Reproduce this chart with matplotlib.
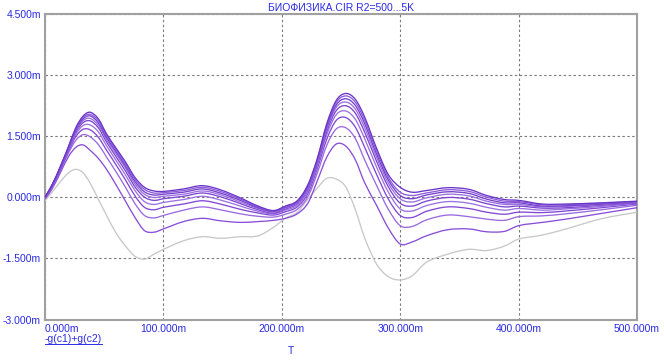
import matplotlib
matplotlib.use("Agg")
import matplotlib.pyplot as plt
from matplotlib.lines import Line2D
from matplotlib.path import Path
from matplotlib.patches import PathPatch

# time axis (ms)
t = [0, 6, 13, 20, 26, 32, 38, 45, 52, 60, 68, 76, 84, 92, 100, 117, 133, 148, 165, 180,
     193, 203, 213, 222, 230, 238, 246, 254, 262, 270, 280, 290, 300, 310, 322, 340, 358,
     373, 388, 400, 420, 440, 470, 500]

# values in m-units, one list per R2 step
c0 = [-0.09, 0.12, 0.38, 0.60, 0.68, 0.60, 0.35, -0.05, -0.45, -0.88, -1.20, -1.45, -1.52, -1.40,
      -1.28, -1.07, -0.97, -1.01, -0.97, -0.95, -0.74, -0.52, -0.37, -0.05, 0.22, 0.46, 0.44, 0.25,
      -0.30, -1.00, -1.64, -1.95, -2.03, -1.93, -1.60, -1.40, -1.28, -1.31, -1.20, -1.03, -0.93,
      -0.78, -0.53, -0.37]
c1 = [-0.05, 0.20, 0.60, 1.00, 1.22, 1.28, 1.15, 0.95, 0.68, 0.30, -0.10, -0.50, -0.82, -0.86,
      -0.78, -0.60, -0.52, -0.58, -0.62, -0.60, -0.57, -0.52, -0.41, -0.15, 0.40, 0.98, 1.30, 1.25,
      0.92, 0.35, -0.20, -0.76, -1.15, -1.10, -0.95, -0.80, -0.78, -0.85, -0.84, -0.70, -0.62,
      -0.54, -0.40, -0.26]
c2 = [-0.03, 0.24, 0.65, 1.09, 1.39, 1.53, 1.48, 1.29, 0.98, 0.62, 0.24, -0.16, -0.45, -0.51,
      -0.45, -0.32, -0.24, -0.31, -0.41, -0.47, -0.49, -0.42, -0.30, 0.01, 0.59, 1.27, 1.67, 1.70,
      1.44, 0.91, 0.29, -0.30, -0.70, -0.72, -0.56, -0.44, -0.48, -0.54, -0.57, -0.48, -0.46,
      -0.41, -0.31, -0.20]
c3 = [-0.02, 0.25, 0.68, 1.14, 1.48, 1.66, 1.65, 1.47, 1.15, 0.79, 0.42, 0.03, -0.25, -0.31,
      -0.25, -0.17, -0.09, -0.17, -0.30, -0.39, -0.44, -0.36, -0.24, 0.09, 0.70, 1.42, 1.88, 1.95,
      1.72, 1.22, 0.56, -0.05, -0.45, -0.50, -0.35, -0.24, -0.28, -0.37, -0.42, -0.37, -0.38,
      -0.34, -0.26, -0.17]
c4 = [-0.02, 0.27, 0.70, 1.17, 1.54, 1.75, 1.77, 1.60, 1.26, 0.90, 0.54, 0.16, -0.11, -0.18,
      -0.13, -0.06, 0.02, -0.07, -0.22, -0.35, -0.41, -0.32, -0.20, 0.15, 0.77, 1.53, 2.02, 2.11,
      1.91, 1.43, 0.74, 0.12, -0.29, -0.34, -0.21, -0.11, -0.15, -0.25, -0.32, -0.28, -0.32,
      -0.29, -0.23, -0.15]
c5 = [-0.01, 0.28, 0.72, 1.19, 1.59, 1.82, 1.87, 1.70, 1.35, 0.99, 0.64, 0.25, 0.00, -0.08,
      -0.04, 0.02, 0.10, 0.01, -0.16, -0.31, -0.39, -0.29, -0.16, 0.20, 0.82, 1.61, 2.12, 2.24,
      2.06, 1.59, 0.88, 0.25, -0.15, -0.22, -0.10, -0.01, -0.05, -0.16, -0.24, -0.22, -0.27,
      -0.26, -0.20, -0.14]
c6 = [-0.01, 0.28, 0.73, 1.21, 1.62, 1.87, 1.93, 1.76, 1.41, 1.06, 0.71, 0.32, 0.07, -0.01,
      0.02, 0.07, 0.15, 0.06, -0.12, -0.28, -0.37, -0.27, -0.14, 0.23, 0.86, 1.67, 2.20, 2.33,
      2.16, 1.70, 0.98, 0.34, -0.04, -0.12, -0.02, 0.07, 0.03, -0.10, -0.18, -0.18, -0.24,
      -0.23, -0.18, -0.13]
c7 = [0.00, 0.29, 0.74, 1.23, 1.65, 1.91, 1.99, 1.82, 1.46, 1.11, 0.76, 0.38, 0.13, 0.05,
      0.07, 0.12, 0.20, 0.10, -0.08, -0.26, -0.35, -0.25, -0.12, 0.26, 0.90, 1.72, 2.26, 2.41,
      2.25, 1.80, 1.06, 0.42, 0.04, -0.04, 0.05, 0.13, 0.09, -0.05, -0.14, -0.14, -0.22,
      -0.21, -0.17, -0.12]
c8 = [0.00, 0.30, 0.74, 1.24, 1.68, 1.95, 2.03, 1.87, 1.51, 1.16, 0.81, 0.43, 0.19, 0.10,
      0.11, 0.16, 0.24, 0.14, -0.05, -0.24, -0.34, -0.24, -0.11, 0.28, 0.92, 1.76, 2.32, 2.48,
      2.33, 1.88, 1.13, 0.48, 0.12, 0.04, 0.10, 0.18, 0.14, 0.00, -0.10, -0.11, -0.19,
      -0.19, -0.15, -0.11]
c9 = [0.00, 0.30, 0.75, 1.25, 1.70, 1.98, 2.08, 1.92, 1.55, 1.20, 0.86, 0.48, 0.24, 0.15,
      0.14, 0.20, 0.28, 0.18, -0.02, -0.22, -0.33, -0.22, -0.09, 0.30, 0.95, 1.80, 2.37, 2.54,
      2.40, 1.96, 1.20, 0.55, 0.24, 0.12, 0.16, 0.23, 0.19, 0.04, -0.06, -0.08, -0.17,
      -0.17, -0.14, -0.10]

x_ticks = [0, 100, 200, 300, 400, 500]
x_labels = ["0.000m", "100.000m", "200.000m", "300.000m", "400.000m", "500.000m"]
y_ticks = [-3.0, -1.5, 0.0, 1.5, 3.0, 4.5]
y_labels = ["-3.000m", "-1.500m", "0.000m", "1.500m", "3.000m", "4.500m"]
title = "БИОФИЗИКА.CIR R2=500...5K"
y_name = "-g(c1)+g(c2)"
x_name = "T"

series = [c0, c1, c2, c3, c4, c5, c6, c7, c8, c9]
colors = ["#c8c8c8", "#8a4ed8", "#9a6ae0", "#8248d4", "#9c72e2", "#7c44d0",
          "#9a70e0", "#7440cc", "#8c5cda", "#6a34c8"]

BLUE = "#2a2ae6"
plt.rcParams["font.family"] = ["Liberation Sans", "DejaVu Sans"]


def smooth_path(xs, ys):
    """Smooth (Catmull-Rom style) Bezier path passing through every data point."""
    n = len(xs)
    verts = [(xs[0], ys[0])]
    codes = [Path.MOVETO]
    for i in range(n - 1):
        x0, y0 = (xs[i - 1], ys[i - 1]) if i > 0 else (xs[i], ys[i])
        x1, y1 = xs[i], ys[i]
        x2, y2 = xs[i + 1], ys[i + 1]
        x3, y3 = (xs[i + 2], ys[i + 2]) if i + 2 < n else (x2, y2)
        h = x2 - x1
        # tangents scaled to segment width (non-uniform spacing)
        m1 = (y2 - y0) / (x2 - x0) if x2 != x0 else 0.0
        m2 = (y3 - y1) / (x3 - x1) if x3 != x1 else 0.0
        verts += [(x1 + h / 3, y1 + m1 * h / 3), (x2 - h / 3, y2 - m2 * h / 3), (x2, y2)]
        codes += [Path.CURVE4] * 3
    return Path(verts, codes)


W, H = 664, 362
fig = plt.figure(figsize=(W / 100, H / 100), dpi=100)
left, right, top, bottom = 45, 637, 13.5, 319.5
ax = fig.add_axes([left / W, 1 - bottom / H, (right - left) / W, (bottom - top) / H])

for s, c in zip(series, colors):
    ax.add_patch(PathPatch(smooth_path(t, s), facecolor="none", edgecolor=c, lw=0.95,
                           zorder=3, joinstyle="round"))

ax.set_xlim(0, 500)
ax.set_ylim(-3.0, 4.5)
ax.set_xticks(x_ticks)
ax.set_xticklabels(x_labels)
ax.set_yticks(y_ticks)
ax.set_yticklabels(y_labels)
ax.tick_params(length=0, labelsize=7.5, labelcolor=BLUE, pad=3)
ax.get_xticklabels()[0].set_ha("left")

ax.grid(True, color="#7a7a7a", lw=0.8, linestyle=(0, (2.2, 2.2)), zorder=1)
for sp in ax.spines.values():
    sp.set_color("#a0a0a0")
    sp.set_linewidth(1.5)

fig.text((left + right) / 2 / W, 1 - 8 / H, title, ha="center", va="center",
         fontsize=7.5, color=BLUE)
yn = fig.text(45 / W, 1 - 339 / H, y_name, ha="left", va="center", fontsize=7.5, color=BLUE)
fig.text(291 / W, 1 - 351 / H, x_name, ha="center", va="center", fontsize=7.5, color=BLUE)

fig.canvas.draw()
bb = yn.get_window_extent()
yy = (bb.y0 + 0.5) / H
fig.add_artist(Line2D([bb.x0 / W, bb.x1 / W], [yy, yy], transform=fig.transFigure,
                      color=BLUE, lw=0.7))

fig.savefig("out.png", dpi=100)
